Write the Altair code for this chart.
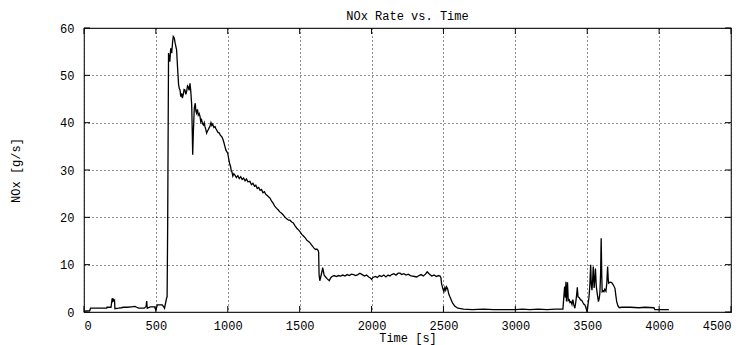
import altair as alt
import pandas as pd

# NOx mass emission rate over the test run
time_s = [
    0, 40, 46, 100, 158, 160, 188, 192, 196, 200, 204, 208, 212, 215, 240, 260, 275, 300, 330, 355,
    366, 380, 420, 432, 436, 440, 460, 490, 500, 510, 545, 560, 575, 578, 582, 588, 597, 603, 610, 616,
    621, 628, 634, 644, 651, 658, 663, 668, 673, 679, 684, 690, 696, 702, 708, 714, 720, 725, 731, 737,
    742, 749, 753, 756, 760, 767, 774, 778, 783, 789, 795, 801, 807, 812, 818, 824, 830, 836, 841, 847,
    853, 858, 864, 870, 876, 883, 889, 895, 903, 911, 916, 922, 930, 941, 949, 957, 965, 974, 980, 987,
    993, 999, 1004, 1008, 1014, 1020, 1024, 1029, 1035, 1042, 1050, 1060, 1070, 1080, 1090, 1100, 1110, 1120, 1130, 1140,
    1154, 1165, 1175, 1185, 1195, 1205, 1215, 1225, 1235, 1245, 1255, 1265, 1275, 1285, 1293, 1305, 1315, 1328, 1340, 1350,
    1360, 1372, 1386, 1398, 1410, 1422, 1432, 1445, 1456, 1468, 1480, 1490, 1502, 1515, 1528, 1540, 1552, 1562, 1572, 1582,
    1592, 1600, 1610, 1620, 1629, 1632, 1635, 1640, 1648, 1655, 1660, 1664, 1670, 1680, 1692, 1706, 1715, 1725, 1740, 1755,
    1770, 1785, 1800, 1815, 1830, 1845, 1860, 1875, 1890, 1905, 1919, 1935, 1950, 1965, 1980, 1992, 2000, 2010, 2025, 2040,
    2055, 2070, 2085, 2100, 2115, 2128, 2140, 2155, 2170, 2185, 2198, 2210, 2225, 2240, 2255, 2270, 2285, 2300, 2314, 2330,
    2345, 2360, 2375, 2387, 2400, 2418, 2435, 2450, 2465, 2476, 2482, 2487, 2495, 2503, 2510, 2516, 2522, 2530, 2537, 2545,
    2555, 2565, 2580, 2600, 2640, 2700, 2780, 2850, 2920, 3000, 3050, 3100, 3160, 3220, 3280, 3331, 3338, 3343, 3348, 3352,
    3356, 3363, 3368, 3375, 3380, 3387, 3394, 3400, 3407, 3414, 3420, 3426, 3431, 3436, 3445, 3455, 3461, 3470, 3478, 3484,
    3492, 3500, 3506, 3512, 3518, 3524, 3528, 3533, 3538, 3542, 3548, 3552, 3557, 3563, 3569, 3578, 3584, 3588, 3593, 3597,
    3601, 3604, 3610, 3616, 3622, 3630, 3636, 3642, 3646, 3649, 3660, 3670, 3680, 3693, 3699, 3705, 3714, 3723, 3739, 3800,
    3860, 3900, 3964, 3970, 4068,
]
nox_gs = [
    0.2, 0.3, 0.8, 0.8, 0.8, 1.0, 1.0, 2.0, 2.9, 2.4, 2.8, 2.2, 2.7, 0.7, 0.8, 0.9, 1.0, 1.0, 1.1, 1.2,
    1.0, 0.8, 0.8, 1.2, 2.3, 0.8, 1.1, 1.1, 0.4, 1.5, 1.5, 0.8, 3.0, 3.2, 18.4, 54.7, 52.9, 55.7, 54.7, 57.0,
    58.2, 57.9, 56.8, 55.4, 51.5, 48.0, 47.2, 46.9, 45.5, 46.2, 45.2, 45.9, 47.0, 46.9, 46.0, 46.6, 47.8, 47.6, 46.8, 48.3,
    46.9, 43.8, 38.1, 33.2, 37.4, 43.1, 44.1, 42.5, 42.0, 42.8, 41.6, 41.9, 41.3, 40.2, 40.6, 39.8, 39.5, 40.0, 39.2, 38.6,
    37.8, 38.2, 38.5, 38.9, 39.2, 40.0, 39.4, 39.7, 39.0, 39.2, 38.8, 38.5, 38.0, 37.8, 37.3, 37.1, 36.6, 35.7, 35.0, 34.2,
    33.9, 33.6, 32.8, 32.1, 31.2, 30.7, 29.8, 29.6, 28.7, 29.2, 28.9, 28.4, 28.8, 28.2, 28.6, 28.0, 28.3, 27.7, 28.1, 27.5,
    27.6, 26.9, 27.2, 26.6, 26.8, 26.1, 26.3, 25.7, 25.9, 25.2, 25.4, 24.8, 24.6, 24.3, 24.1, 23.4, 23.0, 22.3, 21.9, 21.6,
    21.2, 20.9, 20.5, 20.0, 19.7, 19.4, 19.4, 19.0, 18.8, 18.2, 17.7, 17.4, 17.0, 16.4, 16.0, 15.6, 15.1, 14.9, 14.6, 14.2,
    13.8, 13.5, 13.2, 13.3, 13.0, 12.6, 7.9, 6.6, 7.6, 8.5, 9.4, 8.8, 7.8, 7.4, 7.0, 6.6, 7.2, 7.5, 7.7, 7.5,
    7.7, 7.6, 7.8, 7.6, 7.9, 7.7, 8.0, 7.9, 7.7, 7.9, 8.2, 7.9, 7.6, 7.8, 7.4, 7.2, 6.9, 7.3, 7.5, 7.3,
    7.7, 7.5, 7.8, 7.4, 7.8, 7.6, 7.9, 8.1, 7.8, 8.2, 8.2, 7.9, 8.1, 7.8, 8.0, 7.7, 7.6, 7.5, 7.4, 7.7,
    7.9, 7.6, 8.0, 8.5, 8.1, 7.6, 7.8, 7.5, 7.7, 7.6, 7.3, 6.0, 5.0, 4.3, 5.2, 4.6, 5.3, 4.8, 3.8, 3.2,
    2.5, 1.8, 1.2, 0.8, 0.6, 0.5, 0.6, 0.5, 0.5, 0.5, 0.6, 0.5, 0.6, 0.5, 0.6, 0.6, 3.5, 5.4, 3.0, 6.4,
    2.2, 6.3, 2.4, 2.6, 2.0, 2.2, 1.6, 2.6, 1.5, 0.8, 2.0, 3.5, 5.2, 3.2, 3.0, 2.5, 2.5, 2.0, 1.6, 1.5,
    0.8, 0.0, 1.7, 3.0, 5.5, 10.0, 6.0, 4.6, 7.0, 9.6, 5.1, 6.5, 9.2, 5.5, 4.0, 2.2, 3.0, 4.0, 8.0, 15.6,
    8.0, 4.3, 4.5, 4.3, 4.8, 4.4, 6.0, 9.6, 7.0, 6.1, 6.3, 6.2, 5.8, 5.0, 3.5, 2.2, 1.3, 0.9, 1.0, 1.0,
    0.9, 1.0, 0.9, 0.5, 0.5,
]

x_ticks = [0, 500, 1000, 1500, 2000, 2500, 3000, 3500, 4000, 4500]
y_ticks = [0, 10, 20, 30, 40, 50, 60]

W, H = 647, 284
FONT = "Liberation Mono"
FS = 12
TICK = 6

df = pd.DataFrame({"t": time_s, "nox": nox_gs})
xt = pd.DataFrame({"t": x_ticks})
yt = pd.DataFrame({"nox": y_ticks})

xs = alt.Scale(domain=[0, 4500], nice=False, zero=False)
ys = alt.Scale(domain=[0, 60], nice=False)

x_axis = alt.Axis(values=x_ticks, format="d", title="Time [s]", titleX=W / 2, titleY=25,
                  titleBaseline="middle", labelPadding=8)
y_axis = alt.Axis(values=y_ticks, format="d", title="NOx [g/s]", titleX=-69, titleY=H / 2,
                  titleAngle=-90, titleAlign="center", titleBaseline="middle",
                  labelPadding=10)

X = alt.X("t:Q", scale=xs, axis=x_axis, title="Time [s]")
Y = alt.Y("nox:Q", scale=ys, axis=y_axis, title="NOx [g/s]")

line = alt.Chart(df).mark_line(color="black", strokeWidth=1.3).encode(x=X, y=Y)

# inward tick marks on all four sides of the frame
bottom_ticks = alt.Chart(xt).mark_rule(color="black").encode(
    x=X, y=alt.value(H), y2=alt.value(H - TICK))
top_ticks = alt.Chart(xt).mark_rule(color="black").encode(
    x=X, y=alt.value(0), y2=alt.value(TICK))
left_ticks = alt.Chart(yt).mark_rule(color="black").encode(
    y=Y, x=alt.value(0), x2=alt.value(TICK))
right_ticks = alt.Chart(yt).mark_rule(color="black").encode(
    y=Y, x=alt.value(W), x2=alt.value(W - TICK))

chart = alt.layer(line, bottom_ticks, top_ticks, left_ticks, right_ticks).properties(
    width=W, height=H,
    background="white",
    title=alt.TitleParams("NOx Rate vs. Time", font=FONT, fontSize=FS,
                          fontWeight="normal", color="black", offset=-1),
    autosize=alt.AutoSizeParams(type="none"),
    padding={"left": 84, "top": 28, "right": 16, "bottom": 33},
).configure_view(
    stroke="#222", strokeWidth=1.2
).configure_axis(
    grid=True, gridColor="#222", gridDash=[1, 3], gridWidth=1, gridOpacity=1,
    domain=False, ticks=False,
    labelFont=FONT, labelFontSize=FS, labelColor="black",
    titleFont=FONT, titleFontSize=FS, titleFontWeight="normal", titleColor="black",
)

chart.save("out.html", embed_options={"renderer": "svg", "actions": False})
